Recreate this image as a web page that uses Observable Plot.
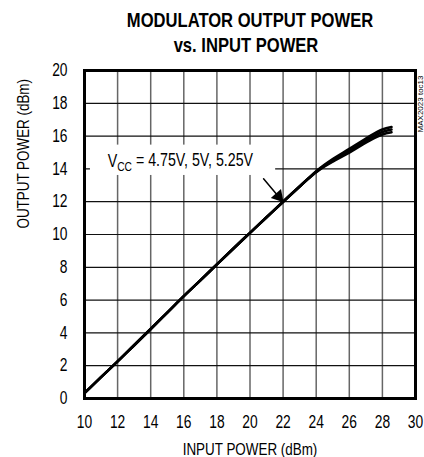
<!DOCTYPE html>
<html>
<head>
<meta charset="utf-8">
<script src="https://cdn.jsdelivr.net/npm/d3@7"></script>
<script src="https://cdn.jsdelivr.net/npm/@observablehq/plot@0.6"></script>
<style>
  html, body { margin: 0; padding: 0; background: #fff; }
  body { width: 424px; height: 457px; overflow: hidden; font-family: "Liberation Sans", Arial, sans-serif; }
  #title { position: relative; height: 60px; width: 424px; }
  #title div { position: absolute; width: 500px; text-align: center; font-weight: bold; font-size: 21px; line-height: 21px; color: #000; transform: scaleX(0.79); transform-origin: 250px 0; white-space: nowrap; }
</style>
</head>
<body>
<div id="title">
  <div style="top:9px; left:0px;">MODULATOR OUTPUT POWER</div>
  <div style="top:34px; left:-4px;">vs. INPUT POWER</div>
</div>
<div id="chart"></div>
<script>
const FONT = '"Liberation Sans", Arial, sans-serif';
const inputPower = [10, 11, 12, 13, 14, 15, 16, 17, 18, 19, 20, 21, 22, 23, 23.5, 24, 24.5, 25, 26, 27, 28, 28.55];
const out475 = [0.33, 1.3, 2.26, 3.25, 4.24, 5.24, 6.24, 7.2, 8.18, 9.15, 10.1, 11.05, 12.0, 12.93, 13.38, 13.8, 14.15, 14.45, 15.0, 15.6, 16.1, 16.23];
const out500 = [0.33, 1.3, 2.26, 3.25, 4.24, 5.24, 6.24, 7.2, 8.18, 9.15, 10.1, 11.05, 12.0, 12.93, 13.39, 13.83, 14.2, 14.53, 15.1, 15.72, 16.25, 16.4];
const out525 = [0.33, 1.3, 2.26, 3.25, 4.24, 5.24, 6.24, 7.2, 8.18, 9.15, 10.1, 11.05, 12.0, 12.93, 13.4, 13.86, 14.25, 14.6, 15.22, 15.85, 16.4, 16.55];
const seriesNames = ["4.75V", "5V", "5.25V"];
const xTicks = [10, 12, 14, 16, 18, 20, 22, 24, 26, 28, 30];
const yTicks = [0, 2, 4, 6, 8, 10, 12, 14, 16, 18, 20];
const xLabel = "INPUT POWER (dBm)";
const yLabel = "OUTPUT POWER (dBm)";
const annotationText = "VCC = 4.75V, 5V, 5.25V";
const annotationBox = [{x1: 10.36, x2: 21.55, y1: 13.6, y2: 15.45}];
const annotationPos = [{x: 11.4, y: 14.45}];
const arrowPos = [{x1: 20.82, y1: 13.4, x2: 21.9, y2: 12.1, hx: 21.72, hy: 12.32}];
const tocLabel = ["MAX2023 toc13"];

const data = [];
[out475, out500, out525].forEach((arr, k) => {
  arr.forEach((v, i) => data.push({series: seriesNames[k], x: inputPower[i], y: v}));
});

const chart = Plot.plot({
  width: 424,
  height: 397,
  marginTop: 10,
  marginBottom: 59,
  marginLeft: 84,
  marginRight: 9,
  style: {fontFamily: FONT, fontSize: "17.5px", color: "#000", background: "#fff"},
  x: {domain: [10, 30], ticks: xTicks, tickSize: 0, tickPadding: 17, label: null},
  y: {domain: [0, 20], ticks: yTicks, tickSize: 0, tickPadding: 17, label: null},
  marks: [
    Plot.gridX(xTicks.slice(1, -1), {stroke: "#666", strokeOpacity: 1, strokeWidth: 1.5}),
    Plot.gridY(yTicks.slice(1, -1), {stroke: "#111", strokeOpacity: 1, strokeWidth: 1.2}),
    Plot.rect(annotationBox, {x1: "x1", x2: "x2", y1: "y1", y2: "y2", fill: "#fff"}),
    Plot.line(data, {x: "x", y: "y", z: "series", stroke: "#000", strokeWidth: 2.6, curve: "monotone-x"}),
    Plot.arrow(arrowPos, {x1: "x1", y1: "y1", x2: "hx", y2: "hy", stroke: "#000", strokeWidth: 1.5, headLength: 0}),
    Plot.dot(arrowPos, {x: "hx", y: "hy", symbol: "triangle", r: 5, fill: "#000", stroke: "none", rotate: 139}),
    Plot.text(annotationPos, {x: "x", y: "y", text: () => annotationText, textAnchor: "start", fontSize: 18, className: "vcc-label"}),
    Plot.text([xLabel], {frameAnchor: "bottom", dy: 56, text: d => d, fontSize: 17}),
    Plot.text([yLabel], {frameAnchor: "left", dx: -61, dy: -6, rotate: -90, text: d => d, fontSize: 17}),
    Plot.text(tocLabel, {frameAnchor: "top-right", dx: 1.5, dy: 5, rotate: -90, textAnchor: "end", text: d => d, fontSize: 8, className: "toc-label"}),
    Plot.frame({stroke: "#000", strokeWidth: 3})
  ]
});

// subscript for V_CC
d3.select(chart).selectAll("g.vcc-label text").each(function() {
  const t = d3.select(this);
  t.text(null);
  t.append("tspan").text("V");
  t.append("tspan").attr("dy", "0.3em").attr("font-size", "13px").text("CC");
  t.append("tspan").attr("dy", "-0.3em").text(" = 4.75V, 5V, 5.25V");
});

// condense glyphs horizontally (narrow type), scaling around each text's anchor
d3.select(chart).selectAll("text").each(function() {
  if (this.closest("g.toc-label")) return;
  let tr = this.getAttribute("transform") || "";
  const x = this.getAttribute("x"), y = this.getAttribute("y");
  let tx = 0, ty = 0;
  if (x != null && !/em$/.test(x)) { tx = +x; this.removeAttribute("x"); }
  if (y != null && !/em$/.test(y)) { ty = +y; this.removeAttribute("y"); }
  if (tx || ty) tr += ` translate(${tx},${ty})`;
  this.setAttribute("transform", (tr + " scale(0.79,1)").trim());
});

document.getElementById("chart").appendChild(chart);
</script>
</body>
</html>
